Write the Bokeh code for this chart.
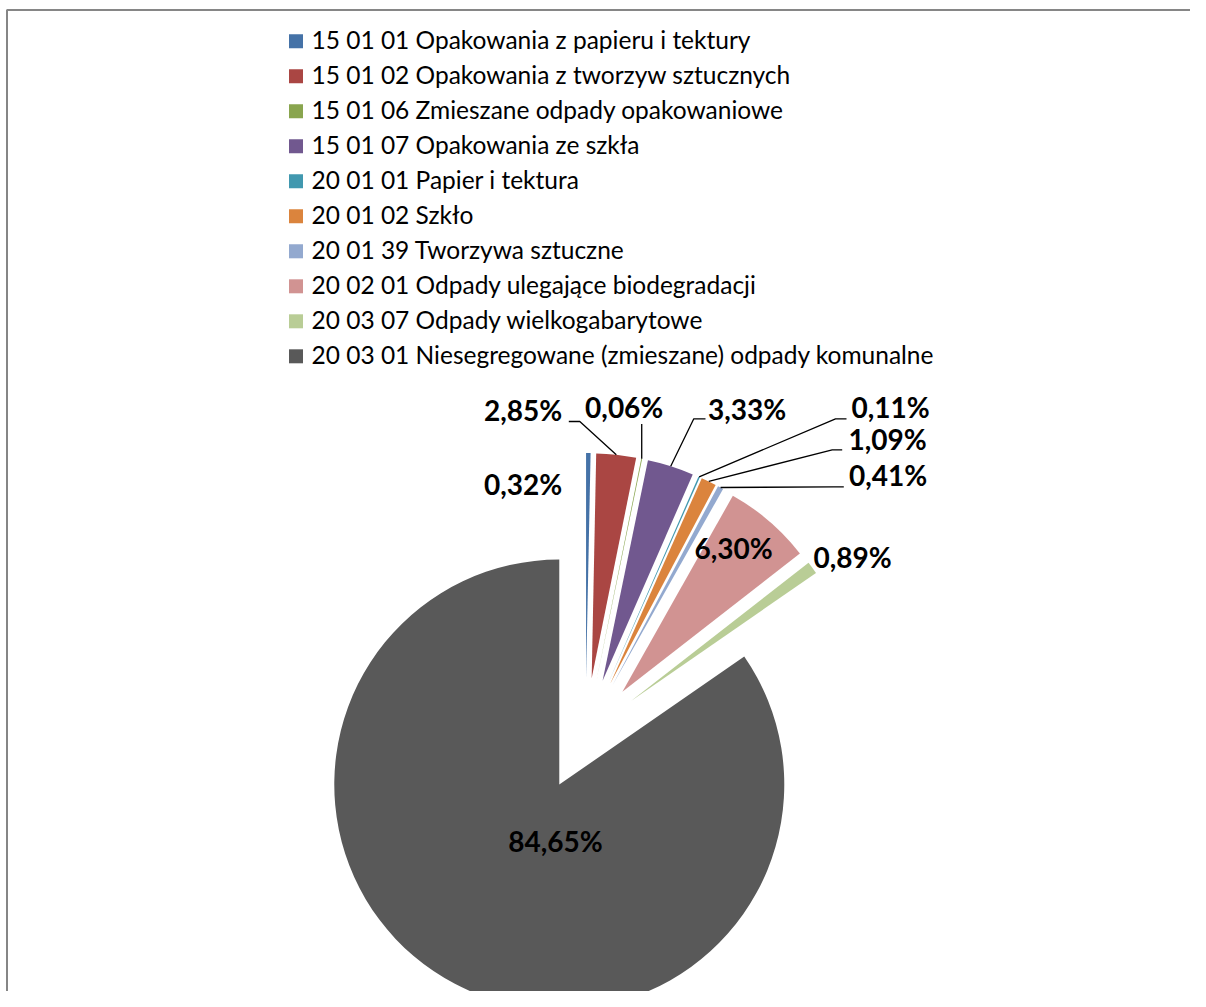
import math
from bokeh.plotting import figure
from bokeh.models import Range1d, ColumnDataSource
from bokeh.core.properties import value
from bokeh.embed import file_html
from bokeh.resources import INLINE

# ---------------- data ----------------
categories = [
    "15 01 01 Opakowania z papieru i tektury",
    "15 01 02 Opakowania z tworzyw sztucznych",
    "15 01 06 Zmieszane odpady opakowaniowe",
    "15 01 07 Opakowania ze szkła",
    "20 01 01 Papier i tektura",
    "20 01 02 Szkło",
    "20 01 39 Tworzywa sztuczne",
    "20 02 01 Odpady ulegające biodegradacji",
    "20 03 07 Odpady wielkogabarytowe",
    "20 03 01 Niesegregowane (zmieszane) odpady komunalne",
]
shares = [0.32, 2.85, 0.06, 3.33, 0.11, 1.09, 0.41, 6.30, 0.89, 84.65]
colors = ["#4572A7", "#AA4643", "#89A54E", "#71588F", "#4198AF",
          "#DB843D", "#93A9CF", "#D19392", "#B9CD96", "#595959"]

# ---------------- layout (picture pixel coordinates, y downward) ----------------
W, H = 1190, 991


def px(X):
    return X


def py(Y):
    return H - Y


CENTER = (585, 734)
RADIUS = 225
EXPLODE = 56.5

# label visual centre (x, y) in picture pixels
label_pos = [(522.5, 485), (522.5, 411), (623.7, 407.5), (746.5, 409.5),
             (890, 408), (887, 440), (887.5, 476), (733, 549),
             (852, 558), (555, 841.5)]
TEXT_DY = 1.5
# leader line elbows (picture pixels), empty = no leader line
leader_elbows = [[], [(579.3, 421), (568.3, 421)], [(641.2, 423.5)],
                 [(693.3, 418.3), (705, 418.3)], [(835, 418.3), (846, 418.3)],
                 [(831.7, 449.3), (841.7, 449.3)], [(833, 486.3), (843.3, 486.3)],
                 [], [], []]

LEG_SQ_X = 295.5
LEG_Y0 = 40.8
LEG_TXT_X = 311
LEG_STEP = 35.0
LEG_SQ = 14

p = figure(width=W, height=H, x_range=Range1d(0, W), y_range=Range1d(0, H),
           output_backend="svg", toolbar_location=None, min_border=0,
           x_axis_location=None, y_axis_location=None)
p.grid.visible = False
p.outline_line_color = None
p.background_fill_color = "white"
p.border_fill_color = "white"

# ---------------- pie ----------------
total = sum(shares)
cum = [0.0]
for s in shares:
    cum.append(cum[-1] + s)

cx0, cy0 = px(CENTER[0]), py(CENTER[1])
xs, ys, starts, ends, mids = [], [], [], [], []
for i in range(len(shares)):
    a0 = cum[i] / total * 2 * math.pi
    a1 = cum[i + 1] / total * 2 * math.pi
    mid = (a0 + a1) / 2
    mids.append(mid)
    xs.append(cx0 + EXPLODE * math.sin(mid))
    ys.append(cy0 + EXPLODE * math.cos(mid))
    starts.append(math.pi / 2 - a0)
    ends.append(math.pi / 2 - a1)

src = ColumnDataSource(dict(x=xs, y=ys, start=starts, end=ends, color=colors))
p.wedge(x="x", y="y", radius=RADIUS, start_angle="start", end_angle="end",
        direction="clock", fill_color="color", line_color=None, source=src)

# ---------------- leader lines ----------------
lx, ly = [], []
for i, elbows in enumerate(leader_elbows):
    if not elbows:
        continue
    ex = xs[i] + RADIUS * math.sin(mids[i])
    ey = ys[i] + RADIUS * math.cos(mids[i])
    lx.append([ex] + [px(e[0]) for e in elbows])
    ly.append([ey] + [py(e[1]) for e in elbows])
p.multi_line(lx, ly, line_color="black", line_width=1.3)

# ---------------- data labels ----------------
label_text = [("%.2f" % s).replace(".", ",") + "%" for s in shares]
p.text(x=[px(q[0]) for q in label_pos], y=[py(q[1] - TEXT_DY) for q in label_pos],
       text=label_text, text_align="center", text_baseline="alphabetic",
       text_font=value("Lato"), text_font_style="bold",
       text_font_size=value("28px"), text_color="black")

# ---------------- legend ----------------
n = len(categories)
p.rect(x=[px(LEG_SQ_X)] * n, y=[py(LEG_Y0 + LEG_STEP * i) for i in range(n)],
       width=LEG_SQ, height=LEG_SQ, fill_color=colors, line_color=None)
p.text(x=[px(LEG_TXT_X)] * n, y=[py(LEG_Y0 + LEG_STEP * i - TEXT_DY) for i in range(n)],
       text=categories, text_align="left", text_baseline="alphabetic",
       text_font=value("Lato"), text_font_size=value("24.5px"), text_color="black")

# ---------------- chart frame (left & top edges visible) ----------------
p.multi_line([[px(6.5), px(6.5), W]], [[0, py(9.5), py(9.5)]],
             line_color="#868686", line_width=2)

open("out.html", "w").write(file_html(p, INLINE))
